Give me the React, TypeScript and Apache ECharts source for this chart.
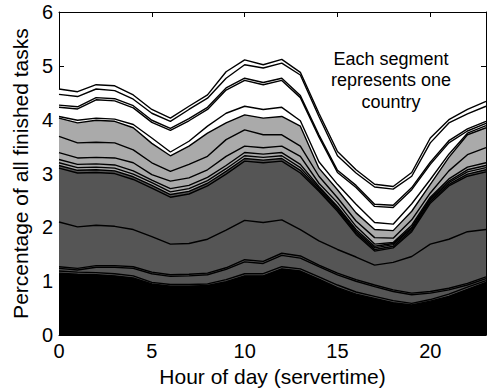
import React, { useEffect, useRef } from 'react';
import * as echarts from 'echarts';

// Hour of day (servertime)
const hours = [0, 1, 2, 3, 4, 5, 6, 7, 8, 9, 10, 11, 12, 13, 14, 15, 16, 17, 18, 19, 20, 21, 22, 23];

// Cumulative boundaries (percentage of all finished tasks), bottom to top
const blackTop = [1.15, 1.13, 1.12, 1.10, 1.06, 0.95, 0.91, 0.91, 0.92, 0.99, 1.10, 1.10, 1.23, 1.19, 1.04, 0.88, 0.76, 0.68, 0.60, 0.56, 0.63, 0.72, 0.85, 0.98];
const thinTop1 = [1.19, 1.17, 1.16, 1.14, 1.10, 0.98, 0.94, 0.94, 0.95, 1.03, 1.14, 1.14, 1.27, 1.23, 1.08, 0.93, 0.80, 0.72, 0.64, 0.59, 0.66, 0.76, 0.89, 1.01];
const thickLineA = [1.24, 1.21, 1.26, 1.26, 1.24, 1.14, 1.09, 1.10, 1.12, 1.22, 1.36, 1.33, 1.48, 1.43, 1.27, 1.12, 1.00, 0.90, 0.81, 0.75, 0.78, 0.84, 0.93, 1.05];
const thickLineB = [1.27, 1.24, 1.29, 1.29, 1.27, 1.17, 1.12, 1.13, 1.15, 1.25, 1.40, 1.37, 1.52, 1.47, 1.30, 1.15, 1.03, 0.93, 0.84, 0.78, 0.81, 0.87, 0.96, 1.08];
const midDark = [2.10, 2.01, 2.04, 2.02, 1.96, 1.83, 1.69, 1.70, 1.78, 1.95, 2.13, 2.09, 2.14, 1.96, 1.75, 1.59, 1.45, 1.30, 1.35, 1.46, 1.69, 1.78, 1.92, 1.96];
const darkTop = [3.10, 3.01, 3.02, 3.00, 2.89, 2.73, 2.56, 2.62, 2.77, 2.99, 3.23, 3.20, 3.23, 3.01, 2.67, 2.30, 1.87, 1.56, 1.62, 1.92, 2.45, 2.77, 2.95, 3.03];
const bundle1 = [3.15, 3.06, 3.07, 3.05, 2.94, 2.78, 2.61, 2.67, 2.82, 3.04, 3.28, 3.25, 3.28, 3.06, 2.70, 2.33, 1.90, 1.59, 1.65, 1.95, 2.48, 2.80, 2.99, 3.07];
const bundle2 = [3.20, 3.11, 3.12, 3.10, 2.99, 2.83, 2.66, 2.72, 2.87, 3.09, 3.33, 3.30, 3.33, 3.11, 2.73, 2.36, 1.93, 1.62, 1.68, 1.98, 2.51, 2.83, 3.03, 3.11];
const bundle3 = [3.26, 3.17, 3.18, 3.16, 3.05, 2.88, 2.72, 2.78, 2.93, 3.15, 3.39, 3.36, 3.39, 3.17, 2.76, 2.39, 1.96, 1.65, 1.70, 2.00, 2.53, 2.86, 3.07, 3.15];
const lightA = [3.39, 3.29, 3.30, 3.29, 3.20, 2.98, 2.86, 2.92, 3.07, 3.32, 3.51, 3.48, 3.51, 3.32, 2.82, 2.46, 2.02, 1.69, 1.72, 2.04, 2.56, 2.90, 3.12, 3.20];
const lightB = [3.69, 3.57, 3.58, 3.57, 3.44, 3.20, 3.04, 3.17, 3.32, 3.63, 3.81, 3.72, 3.72, 3.51, 2.95, 2.55, 2.12, 1.81, 1.80, 2.14, 2.64, 3.05, 3.35, 3.48];
const lightTop = [4.03, 3.94, 3.99, 3.97, 3.85, 3.56, 3.33, 3.51, 3.75, 3.94, 4.09, 4.03, 4.06, 3.88, 3.10, 2.70, 2.27, 1.96, 1.94, 2.30, 2.80, 3.30, 3.72, 3.85];
const whiteA = [4.06, 3.99, 4.03, 4.01, 3.91, 3.66, 3.40, 3.60, 3.88, 4.12, 4.25, 4.19, 4.23, 3.98, 3.22, 2.80, 2.43, 2.09, 2.06, 2.44, 2.89, 3.36, 3.75, 3.89];
const whiteB = [4.23, 4.20, 4.37, 4.35, 4.22, 3.95, 3.80, 3.98, 4.19, 4.55, 4.73, 4.65, 4.73, 4.41, 3.68, 3.02, 2.74, 2.39, 2.37, 2.70, 3.17, 3.57, 3.79, 3.93];
const whiteC = [4.27, 4.24, 4.41, 4.39, 4.26, 3.99, 3.84, 4.02, 4.23, 4.59, 4.77, 4.69, 4.77, 4.45, 3.72, 3.06, 2.78, 2.43, 2.41, 2.74, 3.21, 3.61, 3.83, 3.97];
const whiteD = [4.47, 4.43, 4.57, 4.54, 4.38, 4.12, 3.97, 4.19, 4.40, 4.77, 5.02, 4.96, 5.05, 4.83, 4.06, 3.33, 3.01, 2.75, 2.71, 2.95, 3.57, 3.94, 4.11, 4.25];
const totalTop = [4.57, 4.52, 4.65, 4.63, 4.46, 4.19, 4.03, 4.25, 4.46, 4.89, 5.11, 5.02, 5.12, 4.88, 4.12, 3.41, 3.07, 2.80, 2.76, 3.02, 3.66, 4.00, 4.19, 4.34];

const xTicks = [0, 5, 10, 15, 20];
const annotation = ['Each segment', 'represents one', 'country'];

const BLACK = '#000000';
const DARK = '#555555';
const LIGHT = '#aaaaaa';
const WHITE = '#ffffff';

// segment top boundary + fill colour of the segment under it (top to bottom)
const segments: { top: number[]; color: string }[] = [
  { top: totalTop, color: WHITE },
  { top: whiteD, color: WHITE },
  { top: whiteC, color: WHITE },
  { top: whiteB, color: WHITE },
  { top: whiteA, color: WHITE },
  { top: lightTop, color: LIGHT },
  { top: lightB, color: LIGHT },
  { top: lightA, color: LIGHT },
  { top: bundle3, color: LIGHT },
  { top: bundle2, color: LIGHT },
  { top: bundle1, color: DARK },
  { top: darkTop, color: DARK },
  { top: midDark, color: DARK },
  { top: thickLineB, color: DARK },
  { top: thickLineA, color: DARK },
  { top: thinTop1, color: DARK },
  { top: blackTop, color: BLACK },
];

const FONT = 'Liberation Sans, Arial, Helvetica, sans-serif';

export default function App() {
  const ref = useRef<HTMLDivElement>(null);
  useEffect(() => {
    if (!ref.current) return;
    const chart = echarts.init(ref.current, undefined, { renderer: 'svg' });
    const areaSeries = segments.map((s, i) => ({
      type: 'line',
      name: 'seg' + i,
      data: hours.map((h, j) => [h, s.top[j]]),
      showSymbol: false,
      symbol: 'none',
      lineStyle: { width: 0, opacity: 0 },
      areaStyle: { color: s.color, opacity: 1 },
      z: 1,
      silent: true,
    }));
    const lineSeries = segments.map((s, i) => ({
      type: 'line',
      name: 'edge' + i,
      data: hours.map((h, j) => [h, s.top[j]]),
      showSymbol: false,
      symbol: 'none',
      lineStyle: { width: 1.4, color: '#000' },
      z: 2,
      silent: true,
    }));
    const axisCommon = {
      axisLine: { show: true, onZero: false, lineStyle: { color: '#000', width: 1 } },
      axisTick: { show: true, inside: true, length: 5, lineStyle: { color: '#000', width: 1 } },
      splitLine: { show: false },
    };
    chart.setOption({
      animation: false,
      backgroundColor: '#ffffff',
      grid: { left: 59, top: 12, width: 427, height: 324, containLabel: false },
      xAxis: [
        {
          type: 'value', min: 0, max: 23, interval: 5, position: 'bottom',
          ...axisCommon,
          axisLabel: {
            color: '#000', fontSize: 20, fontFamily: FONT, margin: 6, showMaxLabel: false,
            formatter: (v: number) => (xTicks.includes(v) ? String(v) : ''),
          },
          name: 'Hour of day (servertime)', nameLocation: 'middle', nameGap: 29,
          nameTextStyle: { color: '#000', fontSize: 21, fontFamily: FONT },
        },
        {
          type: 'value', min: 0, max: 23, interval: 5, position: 'top',
          ...axisCommon,
          axisLabel: { show: false },
        },
      ],
      yAxis: [
        {
          type: 'value', min: 0, max: 6, interval: 1, position: 'left',
          ...axisCommon,
          axisLabel: { color: '#000', fontSize: 20, fontFamily: FONT, margin: 6 },
          name: 'Percentage of all finished tasks', nameLocation: 'middle', nameGap: 22,
          nameTextStyle: { color: '#000', fontSize: 21, fontFamily: FONT },
        },
        {
          type: 'value', min: 0, max: 6, interval: 1, position: 'right',
          ...axisCommon,
          axisLabel: { show: false },
        },
      ],
      graphic: [
        {
          type: 'text', x: 391, y: 48, z: 10,
          style: {
            text: annotation.join('\n'),
            textAlign: 'center', textVerticalAlign: 'top',
            fontSize: 18, fontFamily: FONT, lineHeight: 21.5, fill: '#000',
          },
        },
      ],
      series: [...areaSeries, ...lineSeries],
    });
    return () => chart.dispose();
  }, []);
  return <div ref={ref} style={{ position: 'absolute', left: 0, top: 0, width: 487, height: 392 }} />;
}
